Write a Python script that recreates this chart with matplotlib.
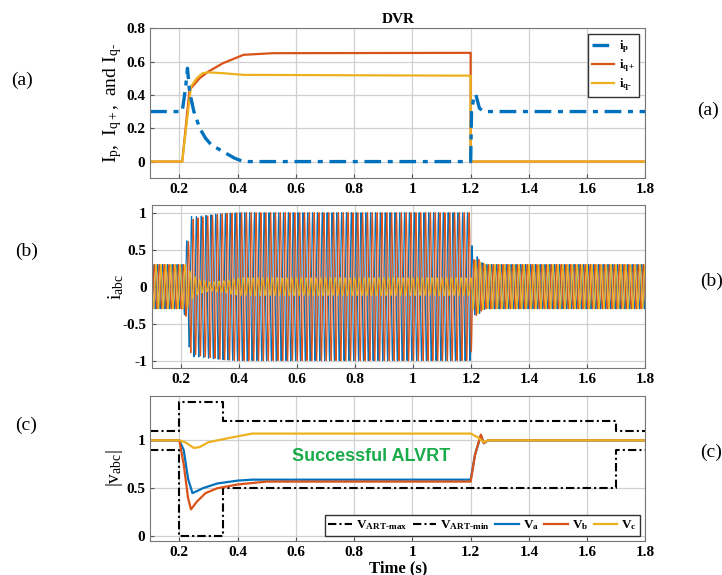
import numpy as np
import matplotlib
matplotlib.use("Agg")
import matplotlib.pyplot as plt

plt.rcParams['font.family'] = ['Liberation Serif', 'DejaVu Serif']
plt.rcParams['font.weight'] = 'bold'
plt.rcParams['mathtext.fontset'] = 'custom'
plt.rcParams['mathtext.rm'] = 'Liberation Serif:bold'
plt.rcParams['mathtext.it'] = 'Liberation Serif:bold'
plt.rcParams['mathtext.bf'] = 'Liberation Serif:bold'

BLUE = '#0072BD'
ORANGE = '#D95319'
YELLOW = '#EDB120'

# (a) current references, breakpoints (time s, value)
t_ip = [0.1, 0.21, 0.222, 0.228, 0.235, 0.25, 0.27, 0.29, 0.31, 0.35, 0.39, 0.42, 1.2, 1.203, 1.212, 1.218, 1.23, 1.245, 1.8]
ip = [0.30, 0.30, 0.45, 0.56, 0.42, 0.30, 0.20, 0.14, 0.10, 0.06, 0.02, 0.0, 0.0, 0.30, 0.40, 0.40, 0.32, 0.30, 0.30]
t_iqp = [0.1, 0.21, 0.235, 0.25, 0.27, 0.30, 0.35, 0.42, 0.52, 1.2, 1.2, 1.8]
iqp = [0.0, 0.0, 0.43, 0.46, 0.50, 0.54, 0.59, 0.64, 0.65, 0.652, 0.0, 0.0]
t_iqm = [0.1, 0.21, 0.24, 0.26, 0.28, 0.30, 0.35, 0.42, 1.2, 1.2, 1.8]
iqm = [0.0, 0.0, 0.45, 0.50, 0.53, 0.535, 0.53, 0.52, 0.515, 0.0, 0.0]

# (b) phase current envelopes
t_env = [0.1, 0.21, 0.222, 0.235, 0.26, 0.30, 0.35, 0.40, 1.2, 1.205, 1.22, 1.235, 1.25, 1.8]
amp_a = [0.30, 0.30, 0.65, 0.95, 0.95, 0.97, 0.99, 1.00, 1.00, 0.35, 0.41, 0.33, 0.30, 0.30]
amp_b = [0.30, 0.30, 0.45, 0.90, 0.93, 0.96, 0.99, 1.00, 1.00, 0.35, 0.40, 0.33, 0.30, 0.30]
amp_c = [0.30, 0.30, 0.30, 0.18, 0.10, 0.06, 0.08, 0.12, 0.12, 0.30, 0.38, 0.32, 0.30, 0.30]
f_grid = 60.0

# (c) voltage magnitudes and ride-through limits
t_art = [0.1, 0.2, 0.2, 0.35, 0.35, 1.7, 1.7, 1.8]
v_max = [1.1, 1.1, 1.4, 1.4, 1.2, 1.2, 1.1, 1.1]
v_min = [0.9, 0.9, 0.0, 0.0, 0.5, 0.5, 0.9, 0.9]
t_va = [0.1, 0.2, 0.215, 0.23, 0.245, 0.26, 0.28, 0.33, 0.40, 0.45, 1.2, 1.215, 1.235, 1.245, 1.26, 1.8]
va = [1.0, 1.0, 0.90, 0.60, 0.45, 0.47, 0.50, 0.55, 0.58, 0.59, 0.59, 0.85, 1.05, 0.97, 1.0, 1.0]
t_vb = [0.1, 0.2, 0.215, 0.23, 0.24, 0.26, 0.29, 0.33, 0.40, 0.50, 1.2, 1.215, 1.235, 1.245, 1.26, 1.8]
vb = [1.0, 1.0, 0.75, 0.40, 0.28, 0.36, 0.45, 0.50, 0.54, 0.57, 0.57, 0.85, 1.06, 0.97, 1.0, 1.0]
t_vc = [0.1, 0.2, 0.22, 0.25, 0.27, 0.30, 0.38, 0.45, 1.2, 1.225, 1.245, 1.26, 1.8]
vc = [1.0, 1.0, 0.98, 0.92, 0.93, 0.98, 1.03, 1.07, 1.07, 1.03, 0.98, 1.0, 1.0]

fig = plt.figure(figsize=(7.22, 5.75), dpi=100)
ax1 = fig.add_axes([0.208, 0.690, 0.686, 0.261])
ax2 = fig.add_axes([0.210, 0.360, 0.684, 0.283])
ax3 = fig.add_axes([0.208, 0.059, 0.686, 0.252])

for ax in (ax1, ax2, ax3):
    ax.set_xlim(0.1, 1.8)
    ax.set_xticks(np.arange(0.2, 1.81, 0.2))
    ax.set_xticklabels(['0.2', '0.4', '0.6', '0.8', '1', '1.2', '1.4', '1.6', '1.8'])
    ax.grid(True, color='#d0d0d0', linewidth=0.9)
    ax.set_axisbelow(True)
    ax.tick_params(labelsize=11, direction='in', length=3, color='#555555')
    for s in ax.spines.values():
        s.set_color('#777777')

# (a)
ax1.plot(t_iqp, iqp, color=ORANGE, lw=1.6, label=r'$\mathregular{i_{q+}}$')
ax1.plot(t_iqm, iqm, color=YELLOW, lw=1.6, label=r'$\mathregular{i_{q\text{-}}}$')
ax1.plot(t_ip, ip, color=BLUE, lw=2.4, dashes=(5, 2, 1.5, 2), label=r'$\mathregular{i_p}$')
ax1.set_ylim(-0.1, 0.8)
ax1.set_yticks([0, 0.2, 0.4, 0.6, 0.8])
ax1.set_yticklabels(['0', '0.2', '0.4', '0.6', '0.8'])
ax1.set_ylabel(r'$\mathregular{I_p,\ I_{q+},\ and\ I_{q\text{-}}}$', fontsize=14, labelpad=2)
ax1.set_title('DVR', fontsize=11, fontweight='bold', pad=4)
h, l = ax1.get_legend_handles_labels()
ax1.legend([h[2], h[0], h[1]], [l[2], l[0], l[1]], loc='upper right',
           fontsize=9, handlelength=1.8, handletextpad=0.4, fancybox=False,
           framealpha=1, edgecolor='#333333', borderaxespad=0.5,
           labelspacing=0.2, borderpad=0.3)

# (b)
t = np.linspace(0.1, 1.8, 30000)
w = 2 * np.pi * f_grid
ia = np.interp(t, t_env, amp_a) * np.sin(w * t)
ib = np.interp(t, t_env, amp_b) * np.sin(w * t - 2 * np.pi / 3)
ic = np.interp(t, t_env, amp_c) * np.sin(w * t + 2 * np.pi / 3)
ax2.plot(t, ia, color=BLUE, lw=0.8)
ax2.plot(t, ib, color=ORANGE, lw=0.8)
ax2.plot(t, ic, color=YELLOW, lw=0.8)
ax2.set_ylim(-1.1, 1.1)
ax2.set_yticks([-1, -0.5, 0, 0.5, 1])
ax2.set_yticklabels(['-1', '-0.5', '0', '0.5', '1'])
ax2.set_ylabel(r'$\mathregular{i_{abc}}$', fontsize=14, labelpad=-2)

# (c)
ax3.plot(t_art, v_max, color='black', lw=1.5, dashes=(4, 1.5, 1, 1.5), label=r'$\mathregular{V_{ART\text{-}max}}$')
ax3.plot(t_art, v_min, color='black', lw=1.5, dashes=(4, 1.5, 1, 1.5), label=r'$\mathregular{V_{ART\text{-}min}}$')
ax3.plot(t_va, va, color=BLUE, lw=1.6, label=r'$\mathregular{V_a}$')
ax3.plot(t_vb, vb, color=ORANGE, lw=1.6, label=r'$\mathregular{V_b}$')
ax3.plot(t_vc, vc, color=YELLOW, lw=1.6, label=r'$\mathregular{V_c}$')
ax3.set_ylim(-0.05, 1.46)
ax3.set_yticks([0, 0.5, 1])
ax3.set_yticklabels(['0', '0.5', '1'])
ax3.set_ylabel(r'$\mathregular{|v_{abc}|}$', fontsize=14, labelpad=1)
ax3.set_xlabel('Time (s)', fontsize=12, fontweight='bold', labelpad=1)
ax3.text(0.86, 0.83, 'Successful ALVRT', fontsize=13, fontweight='bold',
         color='#1aab4b', family='Liberation Sans', ha='center', va='center')
ax3.legend(loc='lower right', ncol=5, fontsize=9.5, handlelength=1.8,
           columnspacing=0.4, handletextpad=0.3, fancybox=False, framealpha=1,
           edgecolor='#333333', borderaxespad=0.4, borderpad=0.25)

# panel tags on both margins
for y, tag in [(0.86, '(a)'), (0.563, '(b)'), (0.261, '(c)')]:
    fig.text(0.016 + (0.005 if tag != '(a)' else 0), y, tag, fontsize=14,
             fontweight='normal', va='center')
for y, tag in [(0.808, '(a)'), (0.510, '(b)'), (0.214, '(c)')]:
    fig.text(0.965 + (0.005 if tag != '(a)' else 0), y, tag, fontsize=14,
             fontweight='normal', va='center')

fig.savefig('out.png', dpi=100)
